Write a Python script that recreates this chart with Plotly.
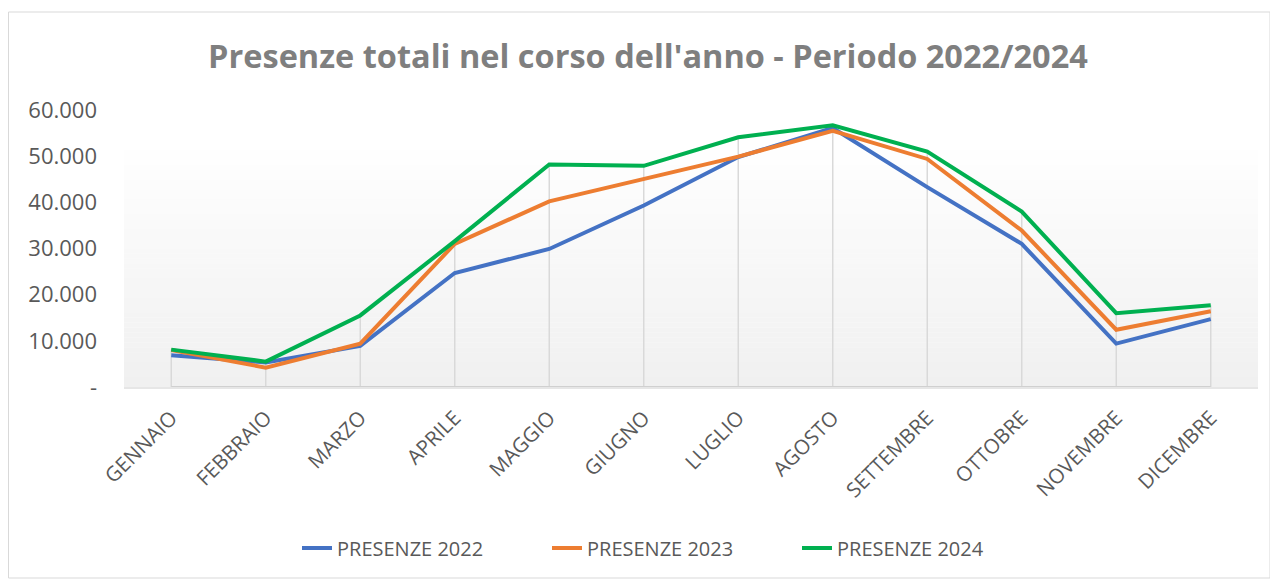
import plotly.graph_objects as go

months = ["GENNAIO", "FEBBRAIO", "MARZO", "APRILE", "MAGGIO", "GIUGNO",
          "LUGLIO", "AGOSTO", "SETTEMBRE", "OTTOBRE", "NOVEMBRE", "DICEMBRE"]
presenze_2022 = [6900, 5300, 8900, 24700, 29900, 39300, 49800, 56100, 43300, 31000, 9400, 14700]
presenze_2023 = [8000, 4200, 9400, 31000, 40200, 45100, 49900, 55500, 49400, 33900, 12400, 16400]
presenze_2024 = [8100, 5500, 15500, 31600, 48200, 47900, 54100, 56700, 51000, 38000, 16000, 17700]
series_names = ["PRESENZE 2022", "PRESENZE 2023", "PRESENZE 2024"]
series_colors = ["#4472C4", "#ED7D31", "#00B050"]
y_tickvals = [0, 10000, 20000, 30000, 40000, 50000, 60000]
y_ticktext = ["-", "10.000", "20.000", "30.000", "40.000", "50.000", "60.000"]
title_text = "Presenze totali nel corso dell'anno - Periodo 2022/2024"

FONT = "Open Sans"
OFF = 8  # page body margin
W, H = 1278 - OFF, 581 - OFF
L, R, T, B = 124 - OFF, 20, 110 - OFF, 581 - 387
pw, ph = W - L - R, H - T - B


def px_x(x):
    return (x - OFF - L) / pw


def px_y(y):
    return (H - B - (y - OFF)) / ph


all_series = [presenze_2022, presenze_2023, presenze_2024]
idx = list(range(len(months)))

fig = go.Figure()

# drop lines (from highest value down to the axis)
drop_x, drop_y = [], []
for i in idx:
    drop_x += [i, i, None]
    drop_y += [0, max(s[i] for s in all_series), None]
fig.add_trace(go.Scatter(x=drop_x, y=drop_y, mode="lines", showlegend=False, hoverinfo="skip",
                         line=dict(color="#d9d9d9", width=1.5)))

for name, vals, col in zip(series_names, all_series, series_colors):
    fig.add_trace(go.Scatter(x=idx, y=vals, name=name, mode="lines",
                             line=dict(color=col, width=4)))

shapes = []
# gradient plot-area background
n = 50
y_top = px_y(140)
for i in range(n):
    t0 = i / n
    t1 = (i + 1) / n
    g = int(round(240 + (255 - 240) * (t0 + 0.5 / n)))
    shapes.append(dict(type="rect", xref="paper", yref="paper",
                       x0=0, x1=1, y0=y_top * t0, y1=y_top * t1 + 0.001,
                       fillcolor=f"rgb({g},{g},{g})", line=dict(width=0), layer="below"))
# category axis line between first and last category
shapes.append(dict(type="line", xref="x", yref="y", x0=idx[0], x1=idx[-1], y0=0, y1=0,
                   line=dict(color="#d0d0d0", width=2), layer="above"))
# outer chart border
shapes.append(dict(type="rect", xref="paper", yref="paper",
                   x0=px_x(8.5), x1=px_x(1270), y0=px_y(578), y1=px_y(12),
                   line=dict(color="#d9d9d9", width=1), fillcolor="rgba(0,0,0,0)", layer="below"))

fig.update_layout(
    width=W, height=H,
    margin=dict(l=L, r=R, t=T, b=B),
    paper_bgcolor="white", plot_bgcolor="rgba(0,0,0,0)",
    font=dict(family=FONT, color="#595959"),
    title=dict(text=f"<b>{title_text}</b>", font=dict(family=FONT, size=32.5, color="#7f7f7f"),
               xref="paper", x=px_x(648), xanchor="center",
               yref="container", y=1 - (57 - OFF) / H, yanchor="middle"),
    showlegend=True,
    legend=dict(orientation="h", x=px_x(672), xanchor="center", y=px_y(548), yanchor="middle",
                font=dict(family=FONT, size=20, color="#595959"),
                entrywidth=205, entrywidthmode="pixels",
                bgcolor="rgba(0,0,0,0)", traceorder="normal"),
    shapes=shapes,
)
fig.update_xaxes(range=[-0.5, len(months) - 0.5], tickmode="array",
                 tickvals=idx, ticktext=months,
                 tickangle=-45, tickfont=dict(family=FONT, size=20.5, color="#595959"),
                 showgrid=False, showline=True, linecolor="#e6e6e6", linewidth=1.5,
                 ticks="", zeroline=False, ticklabelstandoff=9)
fig.update_yaxes(range=[0, 60000], tickmode="array", tickvals=y_tickvals, ticktext=y_ticktext,
                 tickfont=dict(family=FONT, size=22, color="#595959"),
                 showgrid=False, zeroline=False, showline=False, ticks="",
                 ticklabelstandoff=26)

fig.write_html("out.html")
